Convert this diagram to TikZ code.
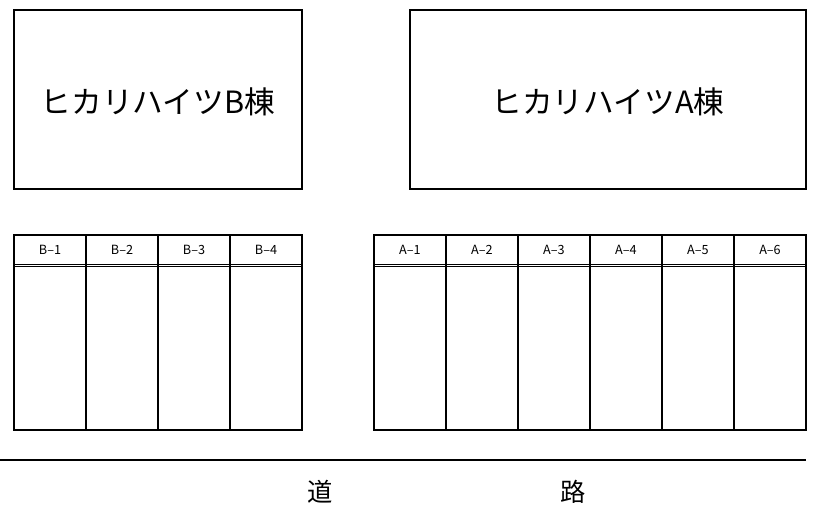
\documentclass[tikz,border=0pt]{standalone}
\usepackage{fontspec}
\setmainfont{Noto Sans CJK JP}
\begin{document}
\begin{tikzpicture}[x=0.75pt,y=-0.75pt,
  bld/.style={draw,line width=1.5pt},
  lot/.style={draw,line width=1.5pt},
  big/.style={font=\fontsize{23}{26}\selectfont},
  small/.style={font=\fontsize{9.5}{11}\selectfont},
  road/.style={font=\fontsize{19}{21}\selectfont}]
\useasboundingbox (0,0) rectangle (817,528);
% buildings
\draw[bld] (14,10) rectangle (302,189);
\draw[bld] (410,10) rectangle (806,189);
\node[big] (bB) at (158,102) {ヒカリハイツB棟};
\node[big] (bA) at (608,102) {ヒカリハイツA棟};
% parking B
\foreach \i [evaluate=\i as \xl using 14+72*(\i-1)] in {1,...,4}{
  \draw[lot] (\xl,235) rectangle ++(72,195);
  \node[small] (pB\i) at (\xl+36,250) {B–\i};
}
\draw[line width=0.75pt] (14,264.3) -- (302,264.3);
\draw[line width=0.75pt] (14,266.5) -- (302,266.5);
% parking A
\foreach \i [evaluate=\i as \xl using 374+72*(\i-1)] in {1,...,6}{
  \draw[lot] (\xl,235) rectangle ++(72,195);
  \node[small] (pA\i) at (\xl+36,250) {A–\i};
}
\draw[line width=0.75pt] (374,264.3) -- (806,264.3);
\draw[line width=0.75pt] (374,266.5) -- (806,266.5);
% road
\coordinate (r0) at (0,460);
\coordinate (r1) at (806,460);
\draw[line width=0.9pt] (r0) -- (r1);
\node[road] (t1) at (320,492) {道};
\node[road] (t2) at (573,492) {路};
\end{tikzpicture}
\end{document}
